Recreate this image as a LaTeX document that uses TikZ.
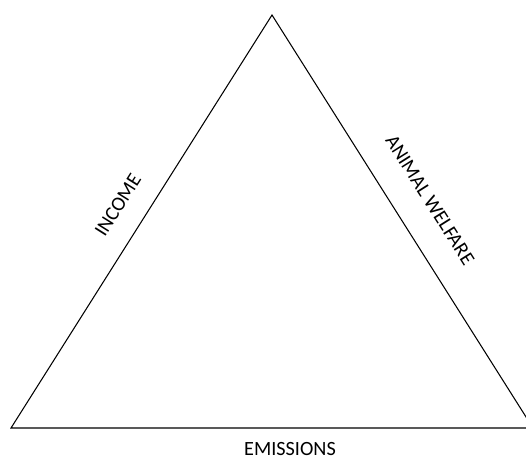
\documentclass[tikz,border=0pt]{standalone}
\usepackage{fontspec}
\setmainfont{Carlito}
\begin{document}
\begin{tikzpicture}[x=0.02cm,y=-0.02cm]
		\newcommand{\mysidefont}[1]{
			\fontsize{11.5}{13}\selectfont{#1}
		}
		\tikzset{sidelabel/.style={inner sep=0pt}}
		%Frame of the picture
		\clip (0,0) rectangle (526,458);
		%Corners of the triangle
		\coordinate (apex) at (272,15);
		\coordinate (left) at (11,428);
		\coordinate (right) at (533,428);
		%Draw the three sides
		\draw[line width=0.6pt] (left) -- (apex) -- (right) -- cycle;
		%Labels of the sides
		\node [sidelabel, rotate=57.7] (income) at (118,205) {\mysidefont{INCOME}};
		\node [sidelabel, rotate=-57.7] (welfare) at (430,200) {\mysidefont{ANIMAL WELFARE}};
		\node [sidelabel] (emissions) at (290,449) {\mysidefont{EMISSIONS}};
\end{tikzpicture}
\end{document}
